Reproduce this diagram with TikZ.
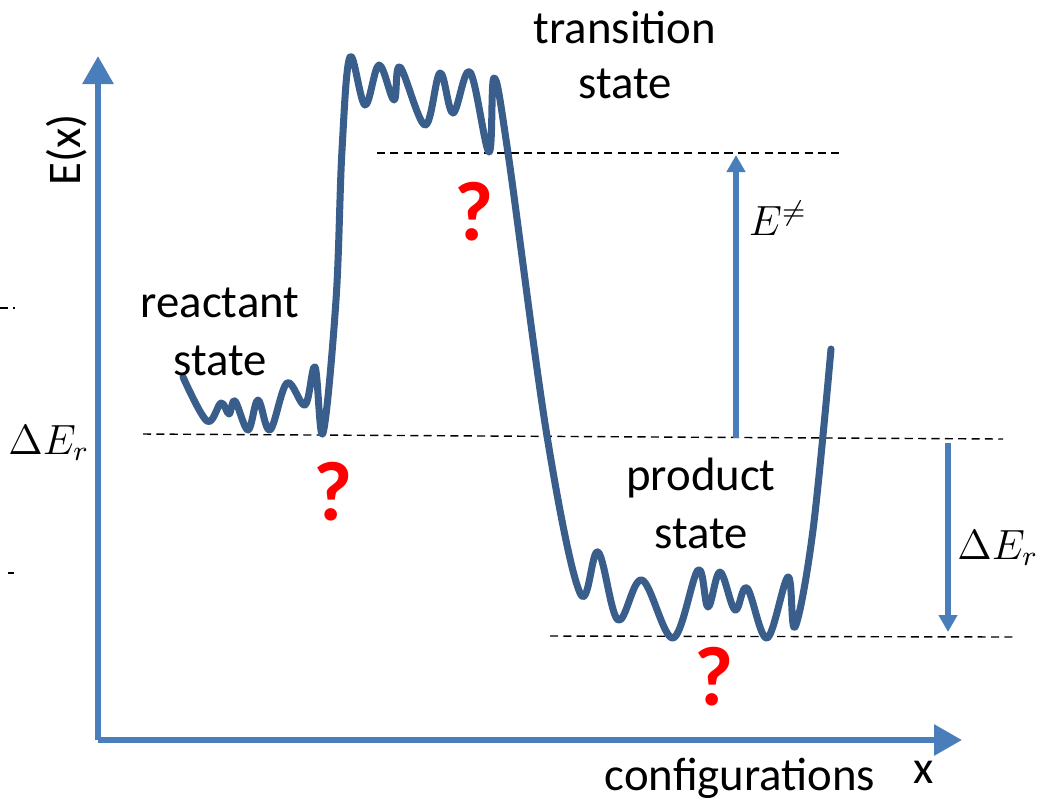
\documentclass[tikz,border=0pt]{standalone}
\usepackage{fontspec}
\setmainfont{Carlito}
\usetikzlibrary{arrows.meta}
\definecolor{axisblue}{HTML}{4A7EBB}
\definecolor{curveblue}{HTML}{3A5E8C}
\definecolor{qred}{HTML}{FF0000}

\begin{document}
\begin{tikzpicture}[x=0.01cm, y=-0.01cm,
    every node/.style={font=\fontsize{13.3}{16}\selectfont, inner sep=0pt},
    axis/.style={line width=1.7pt, axisblue, -{Triangle[width=0.3cm,length=0.28cm]}},
    gap/.style={line width=1.8pt, axisblue, -{Triangle[width=0.18cm,length=0.17cm]}},
    lvl/.style={line width=0.4pt, dash pattern=on 2.3pt off 1.5pt},
    curve/.style={line width=2pt, curveblue, line cap=round, line join=round},
    mathlbl/.style={font=\fontsize{11.8}{14}\selectfont},
    qmark/.style={qred, font=\fontsize{24}{28}\selectfont\bfseries, anchor=base}]
  \useasboundingbox (0,0) rectangle (1040,799);
  % axes
  \coordinate (origin) at (98,740);
  \coordinate (ytip) at (98,56);
  \coordinate (xtip) at (962,740);
  \draw[axis] (origin) -- (ytip);
  \draw[axis] (origin) -- (xtip);
  \node[rotate=90] (ylab) at (67,150) {E(x)};
  \node[anchor=base] (xname) at (740,790) {configurations};
  \node[anchor=base] (xlab) at (924,783) {x};
  % energy levels
  \draw[lvl] (0,308) -- (15,308);
  \draw[lvl] (8,573) -- (14,573);
  \draw[lvl] (377,153) -- (840,153);
  \draw[lvl] (143,434) -- (1003,439);
  \draw[lvl] (550,636) -- (1015,637);
  % energy landscape
  \draw[curve] plot[smooth, tension=0.6] coordinates {
    (183,377) (207,421) (221,403) (229,414) (235,401) (248,430) (258,400)
    (270,430) (287,383) (305,405) (315,367) (323,433) (336,300) (342,150)
    (350,57) (365,105) (379,65) (394,100) (400,67) (425,125) (440,73)
    (453,113) (470,72) (489,152) (494,78) (508,153) (547,436) (580,593)
    (598,552) (618,620) (642,580) (673,638) (698,570) (708,607) (720,572)
    (735,610) (747,588) (767,638) (788,577) (795,627) (813,530) (831,349)};
  % barrier and reaction energy
  \coordinate (ebot) at (736,438);
  \coordinate (etop) at (736,155);
  \draw[gap] (ebot) -- (etop);
  \node[mathlbl] (elab) at (778,218) {$E^{\neq}$};
  \coordinate (rtop) at (948,443);
  \coordinate (rbot) at (948,632);
  \draw[gap] (rtop) -- (rbot);
  \node[mathlbl] (rlab) at (998,548) {$\Delta E_r$};
  \node[mathlbl] (llab) at (49,443) {$\Delta E_r$};
  % state labels
  \node[anchor=base] (rs1) at (220,317) {reactant};
  \node[anchor=base] (rs2) at (220,375) {state};
  \node[anchor=base] (ts1) at (625,43) {transition};
  \node[anchor=base] (ts2) at (625,98) {state};
  \node[anchor=base] (ps1) at (701,490) {product};
  \node[anchor=base] (ps2) at (701,548) {state};
  % unknowns
  \node[qmark] (q1) at (333,520) {?};
  \node[qmark] (q2) at (474,240) {?};
  \node[qmark] (q3) at (714,705) {?};
\end{tikzpicture}
\end{document}
